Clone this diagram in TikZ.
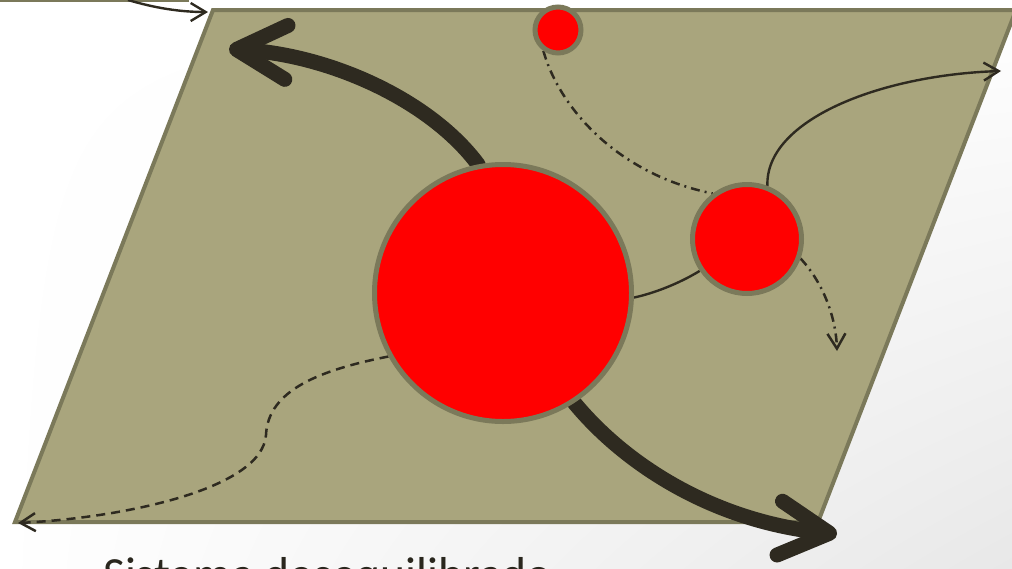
\documentclass[tikz,border=0pt]{standalone}
\usepackage{fontspec}
\setmainfont{Carlito}
\usetikzlibrary{arrows.meta,shadings}
\definecolor{olivefill}{RGB}{169,165,125}
\definecolor{oliveline}{RGB}{123,121,90}
\definecolor{ink}{RGB}{46,42,32}
\pgfdeclarelayer{back}
\pgfdeclarelayer{mid}
\pgfsetlayers{back,mid,main}
\begin{document}
\begin{tikzpicture}[x=1pt,y=-1pt,
  plate/.style={fill=olivefill,draw=oliveline,line width=4pt,line join=miter},
  ball/.style={circle,draw=oliveline,fill=red,line width=5pt,inner sep=0pt},
  bigarrow/.style={draw=ink,line width=15pt,line cap=round,-{Straight Barb[length=50pt,width=54pt,round]}},
  thinline/.style={draw=ink,line width=2.4pt},
  smalltip/.style={-{Straight Barb[length=15pt,width=18pt]}},
  dashedline/.style={draw=ink,line width=2.5pt,dash pattern=on 9pt off 6pt},
  dashdotline/.style={draw=ink,line width=2.5pt,dash pattern=on 9pt off 5pt on 2pt off 5pt},
  caption/.style={anchor=base west,text=ink!90!black,font=\fontsize{47.6}{52}\selectfont,inner sep=0pt}]
\useasboundingbox (0,0) rectangle (1012,568);
\begin{pgfonlayer}{back}
  \shade[upper left=white,upper right=white,lower left=white,lower right=black!9] (0,0) rectangle (1012,568);
  \draw[plate] (-60,-100) rectangle (187,0);
  \coordinate (prevpt) at (128,0);
  \coordinate (pA) at (213,10);
  \coordinate (pB) at (1016,10);
  \coordinate (pC) at (818,522);
  \coordinate (pD) at (15,522);
  \draw[plate] (pA) -- (pB) -- (pC) -- (pD) -- cycle;
\end{pgfonlayer}

\node[ball,minimum size=257pt] (big) at (503,293) {};
\node[ball,minimum size=109pt] (med) at (747,239) {};
\node[ball,minimum size=46pt] (small) at (558,30) {};

\coordinate (tipTL) at (208,12);
\coordinate (tipNW) at (229,49);
\coordinate (tipSE) at (837,534);
\coordinate (tipNE) at (1001,71);
\coordinate (tipS) at (837,351);
\coordinate (tipSW) at (18,523);
\coordinate (bendSW) at (266,435);

\begin{pgfonlayer}{mid}
  \draw[thinline,smalltip] (prevpt) .. controls (155,8) and (180,12) .. (tipTL);
  \draw[bigarrow] (big.101) .. controls (430,100) and (330,55) .. (tipNW);
  \draw[bigarrow] (big.-57) .. controls (630,470) and (720,522) .. (tipSE);
  \draw[thinline] (big.-2) .. controls (655,293) and (680,283) .. (med.214);
  \draw[thinline,smalltip] (med.69) .. controls (765,120) and (880,75) .. (tipNE);
  \draw[dashdotline] (small.235) .. controls (560,110) and (620,175) .. (med.127);
  \draw[dashdotline,smalltip] (med.-20) .. controls (825,285) and (836,320) .. (tipS);
  \draw[dashedline,smalltip] (big.209) .. controls (320,370) and (268,390) .. (bendSW)
        .. controls (262,490) and (120,518) .. (tipSW);
\end{pgfonlayer}

\node[caption] (label) at (103,590) {Sistema desequilibrado};
\end{tikzpicture}
\end{document}
